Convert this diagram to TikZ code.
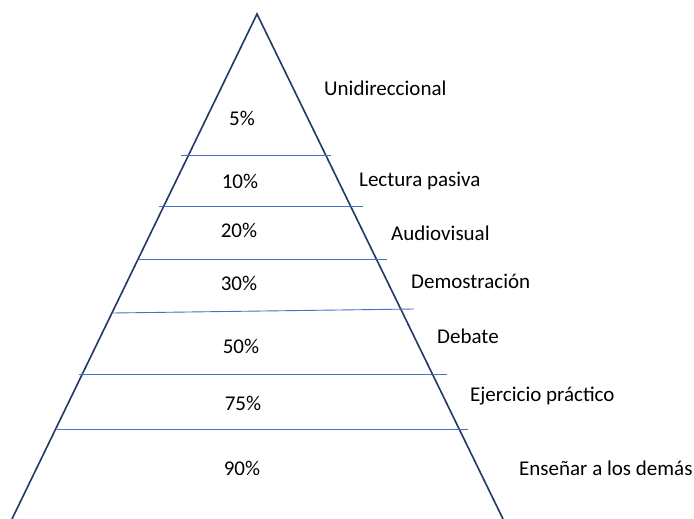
\documentclass[tikz,border=0pt]{standalone}
\usepackage{fontspec}
\setmainfont{Carlito}
\usepackage{xcolor}
\usetikzlibrary{positioning}

\definecolor{edgeblue}{RGB}{31,56,100}
\definecolor{bandblue}{RGB}{68,114,196}

\begin{document}
\begin{tikzpicture}[x=1pt,y=-1pt]
    \tikzstyle{edge}=[draw=edgeblue, line width=1.6pt]
    \tikzstyle{band}=[draw=bandblue, line width=0.9pt]
    \tikzstyle{pct}=[font=\fontsize{21}{25}\selectfont, inner sep=0pt]
    \tikzstyle{lbl}=[font=\fontsize{21}{25}\selectfont, inner sep=0pt, anchor=west]

    \useasboundingbox (0,0) rectangle (694,519);

    % pyramid
    \coordinate (top) at (257,14);
    \coordinate (bl) at (12,519);
    \coordinate (br) at (503,519);
    \draw[edge] (bl) -- (top) -- (br);

    % bands
    \coordinate (a1) at (181,155); \coordinate (a2) at (331,155);
    \coordinate (b1) at (159,206); \coordinate (b2) at (363,206);
    \coordinate (c1) at (138,259); \coordinate (c2) at (387,259);
    \coordinate (d1) at (113,313); \coordinate (d2) at (414,309);
    \coordinate (e1) at (79,374);  \coordinate (e2) at (447,374);
    \coordinate (f1) at (57,429);  \coordinate (f2) at (468,429);
    \path[band] (a1) -- (a2);
    \path[band] (b1) -- (b2);
    \path[band] (c1) -- (c2);
    \path[band] (d1) -- (d2);
    \path[band] (e1) -- (e2);
    \path[band] (f1) -- (f2);

    % percentages
    \node[pct] (p5) at (242,118) {5\%};
    \node[pct] (p10) at (240,181) {10\%};
    \node[pct] (p20) at (239,230) {20\%};
    \node[pct] (p30) at (239,283) {30\%};
    \node[pct] (p50) at (241,346) {50\%};
    \node[pct] (p75) at (243,403) {75\%};
    \node[pct] (p90) at (242,468) {90\%};

    % methods
    \node[lbl] (uni) at (324,88) {Unidireccional};
    \node[lbl] (lec) at (359,181) {Lectura pasiva};
    \node[lbl] (aud) at (391,233) {Audiovisual};
    \node[lbl] (dem) at (411,281) {Demostración};
    \node[lbl] (deb) at (437,336) {Debate};
    \node[lbl] (eje) at (470,396) {Ejercicio práctico};
    \node[lbl] (ens) at (519,468) {Enseñar a los demás};
\end{tikzpicture}
\end{document}
